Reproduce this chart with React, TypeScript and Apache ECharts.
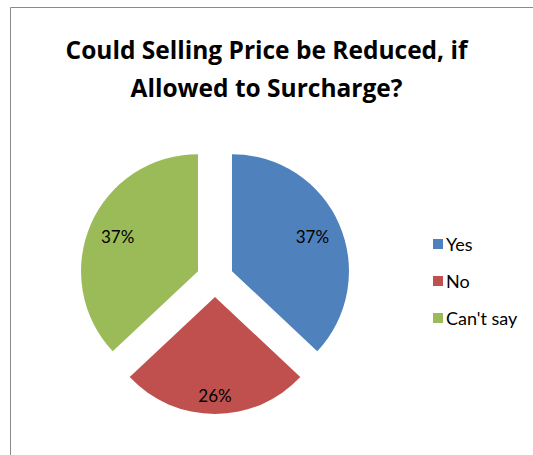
import React, { useEffect, useRef } from "react";
import * as echarts from "echarts";

const titleText = "Could Selling Price be Reduced, if\nAllowed to Surcharge?";
const categories = ["Yes", "No", "Can't say"];
const values = [37, 26, 37];
const colors = ["#4F81BD", "#C0504D", "#9BBB59"];
// extra outward push of each percentage label (Excel places them further out than mid-radius)
const labelShifts = [
  { dx: 24, dy: -10 },
  { dx: 0, dy: 37 },
  { dx: -24, dy: -10 },
];

export default function App() {
  const ref = useRef<HTMLDivElement>(null);
  useEffect(() => {
    if (!ref.current) return;
    const chart = echarts.init(ref.current, null, { renderer: "svg" });
    chart.setOption({
      animation: false,
      backgroundColor: "#ffffff",
      title: {
        text: titleText,
        left: "center",
        top: 25,
        textStyle: {
          fontFamily: "Open Sans",
          fontWeight: "bold",
          fontSize: 24.5,
          lineHeight: 38,
          color: "#000000",
        },
      },
      graphic: [
        {
          type: "rect",
          shape: { x: 10.5, y: 7.5, width: 700, height: 700 },
          style: { fill: "none", stroke: "#8a8a8a", lineWidth: 1 },
          silent: true,
        },
      ],
      legend: {
        orient: "vertical",
        left: 428,
        top: 228,
        icon: "rect",
        itemWidth: 10,
        itemHeight: 10,
        itemGap: 15,
        selectedMode: false,
        data: categories,
        textStyle: {
          fontFamily: "Lato",
          fontSize: 18,
          lineHeight: 22,
          color: "#000000",
          padding: [0, 0, 0, -2],
        },
      },
      series: [
        {
          type: "pie",
          center: [215, 278.5],
          radius: [0, 117],
          startAngle: 90,
          clockwise: true,
          selectedMode: "multiple",
          selectedOffset: 18.5,
          avoidLabelOverlap: false,
          label: {
            show: true,
            position: "inside",
            formatter: "{d}%",
            fontFamily: "Lato",
            fontSize: 17,
            color: "#000000",
          },
          labelLine: { show: false },
          labelLayout: (p: any) => labelShifts[p.dataIndex],
          emphasis: { disabled: true },
          itemStyle: { borderWidth: 0 },
          data: categories.map((name, i) => ({
            name,
            value: values[i],
            selected: true,
            itemStyle: { color: colors[i] },
          })),
        },
      ],
    });
    return () => chart.dispose();
  }, []);
  return (
    <div
      ref={ref}
      style={{ position: "fixed", left: 0, top: 0, width: 533, height: 455 }}
    />
  );
}
